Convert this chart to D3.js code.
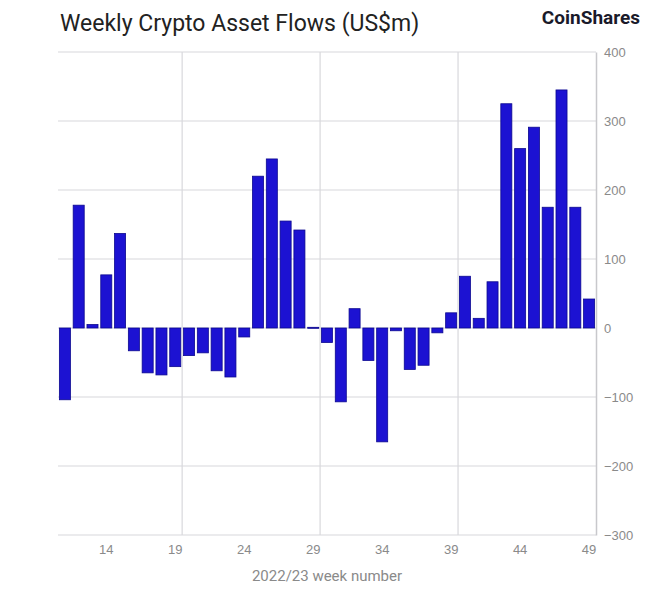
<!DOCTYPE html>
<html>
<head>
<meta charset="utf-8">
<script src="https://cdn.jsdelivr.net/npm/d3@7"></script>
<style>
  body { margin: 0; background: #fff; font-family: Roboto, "Noto Sans", sans-serif; }
</style>
</head>
<body>
<svg id="chart" width="670" height="589"></svg>
<script>
const weeks = d3.range(11, 50);
const flows = [-104, 178, 5, 77, 137, -33, -65, -68, -56, -40, -36, -62, -71, -13,
  220, 245, 155, 142, 1, -21, -107, 28, -47, -165, -4, -60, -54, -7,
  22, 75, 14, 67, 325, 260, 291, 175, 345, 175, 42];
const xTicks = [14, 19, 24, 29, 34, 39, 44, 49];
const yTicks = [-300, -200, -100, 0, 100, 200, 300, 400];
const gridWeeks = [19, 29, 39];

const svg = d3.select('#chart');
const margin = { top: 52, right: 74, bottom: 54, left: 58 };
const width = 670, height = 589;

const x = d3.scaleBand()
  .domain(weeks)
  .range([margin.left, width - margin.right])
  .paddingInner(0.2)
  .paddingOuter(0.1);

const y = d3.scaleLinear()
  .domain([-300, 400])
  .range([height - margin.bottom, margin.top]);

// horizontal grid
svg.append('g')
  .selectAll('line')
  .data(yTicks)
  .join('line')
  .attr('x1', margin.left)
  .attr('x2', width - margin.right)
  .attr('y1', d => y(d))
  .attr('y2', d => y(d))
  .attr('stroke', '#d8d8dc')
  .attr('stroke-width', 1.2);

// vertical grid
svg.append('g')
  .selectAll('line')
  .data(gridWeeks)
  .join('line')
  .attr('x1', d => x(d) + x.step() - x.step() * x.paddingInner() / 2)
  .attr('x2', d => x(d) + x.step() - x.step() * x.paddingInner() / 2)
  .attr('y1', margin.top)
  .attr('y2', height - margin.bottom)
  .attr('stroke', '#d8d8dc')
  .attr('stroke-width', 1.2);

// bars
svg.append('g')
  .selectAll('rect')
  .data(weeks.map((w, i) => ({ w, v: flows[i] })))
  .join('rect')
  .attr('x', d => x(d.w))
  .attr('width', x.bandwidth())
  .attr('y', d => y(Math.max(0, d.v)))
  .attr('height', d => Math.max(1, Math.abs(y(d.v) - y(0))))
  .attr('fill', '#1c12d2')
  .attr('stroke', '#0c0890')
  .attr('stroke-width', 0.8);

// right axis
const yAxis = svg.append('g')
  .attr('transform', `translate(${width - margin.right},0)`)
  .call(d3.axisRight(y).tickValues(yTicks).tickSize(0).tickPadding(8));
yAxis.select('.domain').attr('stroke', '#c8c8cc').attr('stroke-width', 1.5);
yAxis.selectAll('text').attr('fill', '#8a8a8a').style('font-size', '13px');

// bottom axis
const xAxis = svg.append('g')
  .attr('transform', `translate(0,${height - margin.bottom})`)
  .call(d3.axisBottom(x).tickValues(xTicks).tickSize(0).tickPadding(10));
xAxis.select('.domain').remove();
xAxis.selectAll('text').attr('fill', '#8a8a8a').style('font-size', '13px');

svg.append('text')
  .attr('x', (margin.left + width - margin.right) / 2)
  .attr('y', 581)
  .attr('text-anchor', 'middle')
  .attr('fill', '#8a8a8a')
  .style('font-size', '15px')
  .text('2022/23 week number');

svg.append('text')
  .attr('x', 60)
  .attr('y', 31)
  .attr('fill', '#222')
  .style('font-size', '23px')
  .text('Weekly Crypto Asset Flows (US$m)');

svg.append('text')
  .attr('x', 640)
  .attr('y', 24)
  .attr('text-anchor', 'end')
  .attr('fill', '#1a1a2a')
  .style('font-size', '19px')
  .style('font-weight', 'bold')
  .text('CoinShares');
</script>
</body>
</html>
